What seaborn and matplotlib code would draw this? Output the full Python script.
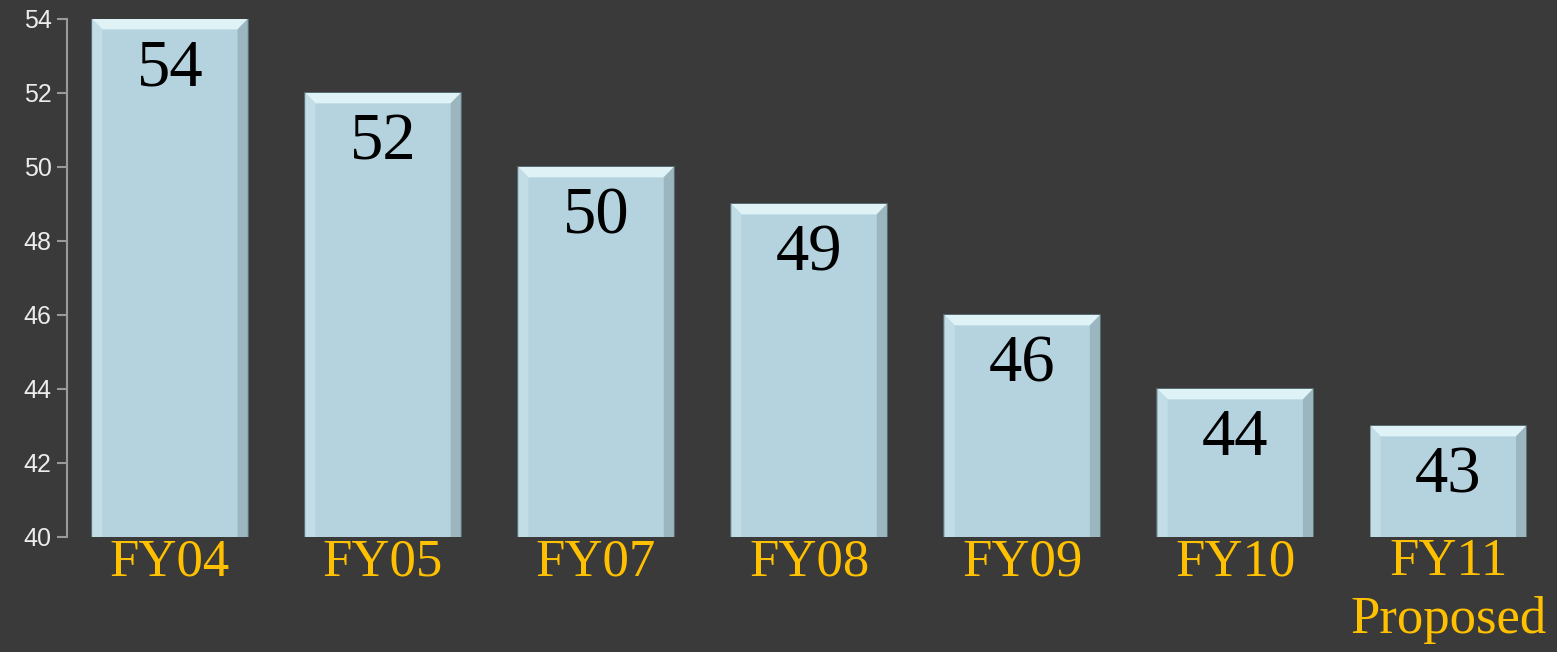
import matplotlib
matplotlib.use("Agg")
import matplotlib.pyplot as plt
import seaborn as sns
import pandas as pd
from matplotlib.patches import Polygon

categories = ["FY04", "FY05", "FY07", "FY08", "FY09", "FY10", "FY11\nProposed"]
values = [54, 52, 50, 49, 46, 44, 43]
yticks = [40, 42, 44, 46, 48, 50, 52, 54]

df = pd.DataFrame({"year": categories, "value": values})

sns.set_theme(style="dark")
bg = "#3a3a3a"
fig = plt.figure(figsize=(15.57, 6.52), dpi=100, facecolor=bg)
ax = fig.add_axes([67 / 1557, 115 / 652, 1 - 67 / 1557, (537 - 19) / 652])
ax.set_facecolor(bg)

sns.barplot(data=df, x="year", y="value", color="#b5d3de", saturation=1,
            width=0.73, ax=ax, edgecolor="#5f7780", linewidth=1.2)

ax.set_ylim(40, 54)
ax.set_xlim(-0.483, 6.51)
ax.set_yticks(yticks)
ax.set_yticklabels([str(t) for t in yticks], family="Liberation Sans",
                   fontsize=18, color="#ececec")
ax.set_xticks(range(len(categories)))
ax.set_xticklabels(categories, family="Liberation Serif", fontsize=38,
                   color="#ffc000", linespacing=1.25)
ax.tick_params(axis="y", which="both", left=True, length=7, width=1.5,
               color="#9a9a9a", pad=4, direction="out")
ax.tick_params(axis="x", length=0, pad=1)
ax.set_xlabel("")
ax.set_ylabel("")
ax.grid(False)
for s in ["top", "right", "bottom"]:
    ax.spines[s].set_visible(False)
ax.spines["left"].set_color("#9a9a9a")
ax.spines["left"].set_linewidth(1.5)

# bevel effect derived from drawn bars
for p in ax.patches:
    x0, y0 = p.get_x(), p.get_y()
    w, h = p.get_width(), p.get_height()
    dx = w * 0.065
    dy = 0.28
    top = Polygon([[x0, y0 + h], [x0 + w, y0 + h], [x0 + w - dx, y0 + h - dy],
                   [x0 + dx, y0 + h - dy]], closed=True, facecolor="#dff3f7",
                  edgecolor="none", zorder=3)
    right = Polygon([[x0 + w, y0 + h], [x0 + w, y0], [x0 + w - dx, y0 + dy],
                     [x0 + w - dx, y0 + h - dy]], closed=True,
                    facecolor="#9cb6bf", edgecolor="none", zorder=3)
    bottom = Polygon([[x0, y0], [x0 + w, y0], [x0 + w - dx, y0 + dy],
                      [x0 + dx, y0 + dy]], closed=True, facecolor="#8fa9b2",
                     edgecolor="none", zorder=3)
    left = Polygon([[x0, y0], [x0, y0 + h], [x0 + dx, y0 + h - dy],
                    [x0 + dx, y0 + dy]], closed=True, facecolor="#c3dde6",
                   edgecolor="none", zorder=3)
    for poly in (top, right, bottom, left):
        ax.add_patch(poly)

for i, v in enumerate(values):
    ax.annotate(str(v), xy=(i, v), xytext=(0, -36), textcoords="offset points",
                ha="center", va="center", family="Liberation Serif",
                fontsize=48, color="black", zorder=5)

fig.savefig("out.png", dpi=100, facecolor=bg)
